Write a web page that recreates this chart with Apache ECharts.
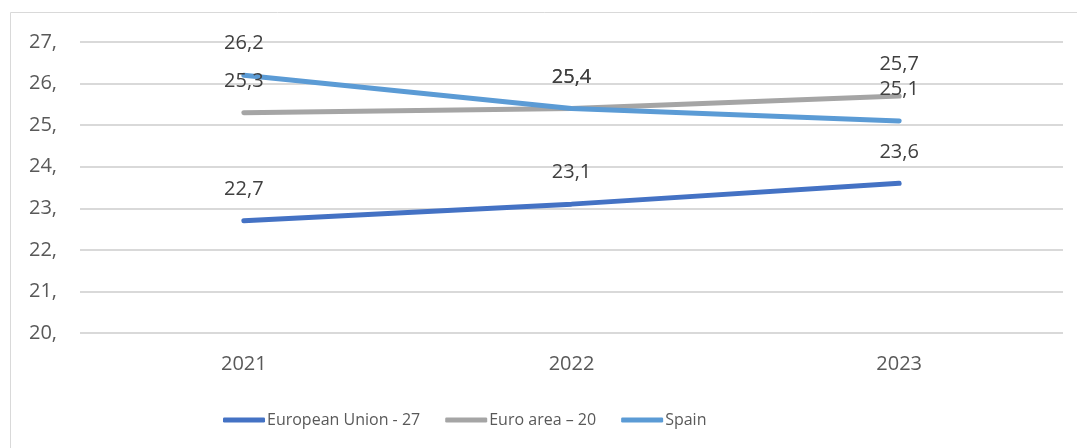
<!DOCTYPE html>
<html><head><meta charset="utf-8">
<script src="https://cdn.jsdelivr.net/npm/echarts@6/dist/echarts.min.js"></script>
<style>html,body{margin:0;padding:0;background:#fff}#c{width:1077px;height:448px}</style>
</head><body><div id="c"></div>
<script>
const categories = ['2021', '2022', '2023'];
const euValues = [22.7, 23.1, 23.6];
const euroAreaValues = [25.3, 25.4, 25.7];
const spainValues = [26.2, 25.4, 25.1];
const seriesNames = ['European Union - 27', 'Euro area \u2013 20', 'Spain'];
const seriesColors = ['#4472C4', '#A5A5A5', '#5B9BD5'];
const yTickLabels = {20: '20,', 21: '21,', 22: '22,', 23: '23,', 24: '24,', 25: '25,', 26: '26,', 27: '27,'};

const FONT = 'Open Sans';
const chart = echarts.init(document.getElementById('c'), null, {renderer: 'canvas'});
function mk(name, data, color) {
  return {
    name, type: 'line', data, symbol: 'circle', symbolSize: 1, showSymbol: true, smooth: false,
    lineStyle: {color, width: 5, cap: 'round'},
    itemStyle: {color, opacity: 0},
    label: {show: true, position: 'top', distance: 21, color: '#404040', fontFamily: FONT, fontSize: 20,
      opacity: 1, formatter: p => String(p.value).replace('.', ',')},
    labelLayout: {hideOverlap: false},
    z: 2
  };
}
chart.setOption({
  animation: false,
  graphic: [{type: 'rect', shape: {x: 10.5, y: 12.5, width: 1070, height: 440}, style: {fill: 'none', stroke: '#d9d9d9', lineWidth: 1}}],
  grid: {left: 80, right: 14, top: 42, bottom: 115, containLabel: false},
  xAxis: {type: 'category', data: categories, boundaryGap: true,
    axisLine: {show: false}, axisTick: {show: false},
    axisLabel: {color: '#595959', fontFamily: FONT, fontSize: 20, margin: 21}},
  yAxis: {type: 'value', min: 20, max: 27, interval: 1,
    axisLine: {show: false}, axisTick: {show: false},
    splitLine: {lineStyle: {color: '#d9d9d9', width: 2}},
    axisLabel: {color: '#595959', fontFamily: FONT, fontSize: 20, margin: 23, formatter: v => yTickLabels[v]}},
  legend: {top: 412, left: 223, padding: 0, itemWidth: 42, itemHeight: 5, itemGap: 25,
    icon: 'roundRect',
    textStyle: {color: '#595959', fontFamily: FONT, fontSize: 16, padding: [0, 0, 0, -3]},
    data: seriesNames.map((n, i) => ({name: n, itemStyle: {color: seriesColors[i], opacity: 1}}))},
  series: [mk(seriesNames[0], euValues, seriesColors[0]), mk(seriesNames[1], euroAreaValues, seriesColors[1]), mk(seriesNames[2], spainValues, seriesColors[2])]
});
</script></body></html>
